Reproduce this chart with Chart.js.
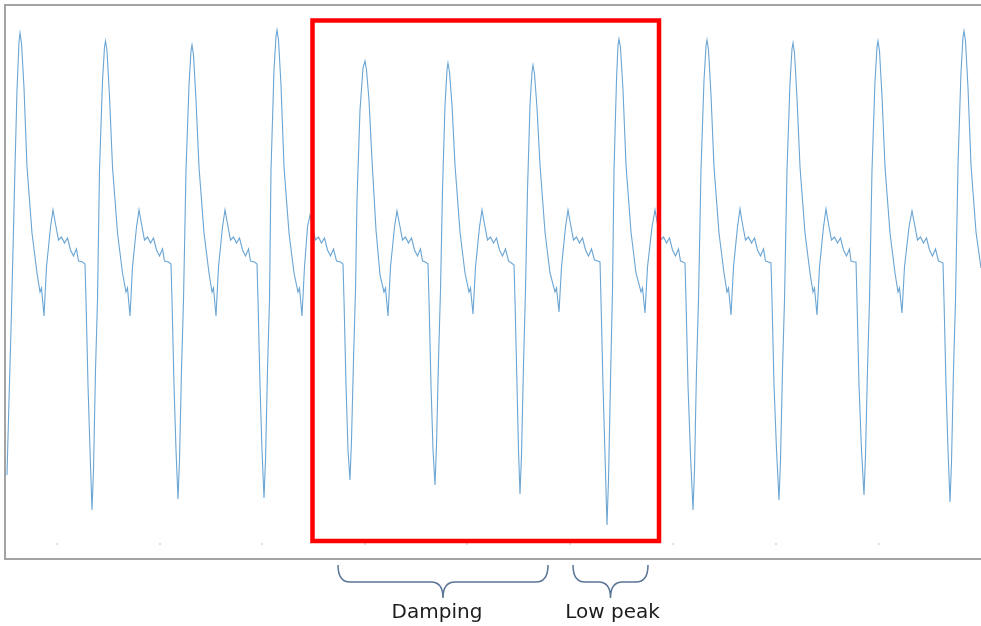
<!DOCTYPE html>
<html>
<head>
<meta charset="utf-8">
<script src="https://cdn.jsdelivr.net/npm/chart.js@4"></script>
<style>
  body { margin: 0; background: #fff; }
</style>
</head>
<body>
<canvas id="waveChart" width="981" height="626"></canvas>
<script>
// signal trace: [sample, level] (level axis points down)
const signal = [
  [7,475],[9,400],[11,330],[13,250],[15,167],[17,90],[19,42],[20,33],[21.5,43],[24,88],[27,167],[32,233],[37,273],[40,292],[41.5,288],[44,316],[46.5,267],[50.5,227],[53,210],[55.5,224],[58.5,240],[61.5,237],[64.5,243],[67.5,238],[70.5,250],[73.5,256],[76.5,249],[78.5,261],[82.5,262],[85,264],[86,300],[88,385],[90,450],
  [92,510],[93.5,470],[95.5,370],[97.5,300],[99.5,170],[102.5,81],[104.5,47],[105.5,41],[107,51],[109.5,96],[112.5,167],[117.5,233],[122.5,273],[126,292],[127.5,288],[130,316],[132.5,267],[136.5,227],[139,210],[141.5,224],[144.5,240],[147.5,237],[150.5,243],[153.5,238],[156.5,250],[159.5,256],[162.5,249],[164.5,261],[168.5,262],[171,264],[172,300],[174,385],[176,450],
  [178,499],[179.5,460],[181.5,370],[183.5,300],[186,170],[189,85],[191,51],[192,45],[193.5,55],[196,100],[199,167],[204,233],[209,273],[212,292],[213.5,288],[216,316],[218.5,267],[222.5,227],[225,210],[227.5,224],[230.5,240],[233.5,237],[236.5,243],[239.5,238],[242.5,250],[245.5,256],[248.5,249],[250.5,261],[254.5,262],[257,264],[258,300],[260,385],[262,450],
  [264,498],[265.5,460],[267.5,370],[269.5,300],[271,170],[274,70],[276,36],[277,30],[278.5,40],[281,85],[284,167],[289,233],[294,273],[298,292],[299.5,288],[302,316],[304.5,267],[307.5,227],[310,215],[312.5,226],[315.5,240],[318.5,237],[321.5,243],[324.5,238],[327.5,250],[330.5,256],[333.5,249],[336.5,261],[340.5,262],[343,264],[344,300],[346,385],[348,450],
  [350,480],[351.5,440],[353.5,360],[355.5,290],[357,200],[360,110],[363,68],[365,61],[366.5,70],[369,100],[372,160],[376,230],[380,275],[384,292],[385.5,288],[388,316],[390.5,267],[394.5,227],[397,211],[399.5,224],[402.5,240],[405.5,237],[408.5,243],[411.5,238],[414.5,250],[417.5,256],[420.5,249],[422.5,261],[425.5,262],[428,264],[429,300],[431,385],[433,450],
  [435,485],[436.5,445],[438.5,360],[440.5,290],[442.5,190],[445,105],[447,70],[448,63],[449.5,72],[452,105],[455,165],[460,232],[465,273],[469,292],[470.5,288],[473,314],[475.5,267],[479.5,227],[482,210],[484.5,224],[487.5,240],[490.5,237],[493.5,243],[496.5,238],[499.5,250],[502.5,256],[505.5,249],[508.5,261],[511.5,263],[514,265],[515,300],[517,385],[518.5,450],
  [520,494],[521.5,455],[523.5,365],[525.5,290],[527.5,190],[530,105],[532,72],[533,65],[534.5,74],[537,108],[540,165],[545,232],[550,273],[555,292],[556.5,288],[559,312],[561.5,267],[565.5,227],[568,210],[570.5,224],[573.5,240],[576.5,237],[579.5,243],[582.5,238],[585.5,250],[588.5,256],[591.5,249],[594.5,260],[597.5,261],[600,262],[601,300],[603,385],[605,455],
  [607,525],[608.5,480],[610.5,380],[612.5,290],[614,170],[616.5,80],[618,45],[619,39],[620.5,48],[623,90],[626,165],[631,232],[636,273],[641,292],[642.5,288],[645,313],[647.5,267],[652,227],[655,210],[657.5,224],[660.5,240],[663.5,237],[666.5,243],[669.5,238],[672.5,250],[675.5,256],[678.5,249],[680.5,261],[683,262],[685,263],[686,300],[688,385],[690.5,455],
  [693,510],[694.5,470],[696.5,370],[698.5,300],[701,170],[704,80],[706,46],[707,40],[708.5,50],[711,95],[714,167],[719,233],[724,273],[727,292],[728.5,288],[731,315],[733.5,267],[737.5,227],[740,209],[742.5,224],[745.5,240],[748.5,237],[751.5,243],[754.5,238],[757.5,250],[760.5,256],[763.5,249],[765.5,261],[768.5,262],[771,263],[772,300],[774,385],[776.5,450],
  [779,500],[780.5,460],[782.5,370],[784.5,300],[787,170],[790,83],[792,49],[793,43],[794.5,53],[797,98],[800,167],[805,233],[810,273],[813,292],[814.5,288],[817,315],[819.5,267],[823.5,227],[826,209],[828.5,224],[831.5,240],[834.5,237],[837.5,243],[840.5,238],[843.5,250],[846.5,256],[849.5,249],[851,261],[854,262],[856,262],[857,300],[859,385],[861.5,450],
  [864,495],[865.5,455],[867.5,370],[869.5,300],[872,170],[875,81],[877,47],[878,41],[879.5,51],[882,96],[885,167],[890,233],[895,273],[898,292],[899.5,288],[902,313],[904.5,267],[909,227],[912,211],[914.5,224],[917.5,240],[920.5,237],[923.5,243],[926.5,238],[929.5,250],[932.5,256],[935.5,249],[938.5,261],[941,262],[943,263],[944,300],[946,385],[948,450],
  [950,502],[951.5,462],[953.5,370],[955.5,300],[958,165],[961,72],[963,37],[964,31],[965.5,41],[968,88],[971,165],[976,232],[981,268]
];

// faint tick marks near the bottom of the plot
const tickMarksX = [57, 160, 262, 365, 467, 570, 673, 776, 879];
const tickMarkLevel = 544;

// highlighted window (red box), in data units
const boxX = [312.5, 659];
const boxY = [20.5, 541];

// braces under the plot
const braceStart = [338, 573];
const braceEnd = [548, 648];
const braceLabels = ['Damping', 'Low peak'];

const frameAndNotes = {
  id: 'frameAndNotes',
  afterDatasetsDraw(chart) {
    const { ctx, chartArea: a, scales: { x, y } } = chart;
    ctx.save();

    // plot frame: left, top, bottom (right side runs off the picture)
    ctx.strokeStyle = '#a3a3a3';
    ctx.lineWidth = 2;
    ctx.beginPath();
    ctx.moveTo(a.right + 2, a.top);
    ctx.lineTo(a.left, a.top);
    ctx.lineTo(a.left, a.bottom);
    ctx.lineTo(a.right + 2, a.bottom);
    ctx.stroke();

    // red box
    ctx.strokeStyle = '#ff0000';
    ctx.lineWidth = 4.5;
    const bx0 = x.getPixelForValue(boxX[0]);
    const bx1 = x.getPixelForValue(boxX[1]);
    const by0 = y.getPixelForValue(boxY[0]);
    const by1 = y.getPixelForValue(boxY[1]);
    ctx.strokeRect(bx0, by0, bx1 - bx0, by1 - by0);

    // braces + labels
    const top = a.bottom + 6, mid = a.bottom + 23, tip = a.bottom + 39;
    ctx.strokeStyle = '#5a7595';
    ctx.lineWidth = 1.5;
    ctx.fillStyle = '#1c1c1c';
    ctx.font = '20px "DejaVu Sans"';
    ctx.textAlign = 'center';
    ctx.textBaseline = 'middle';
    braceLabels.forEach((label, i) => {
      const x0 = x.getPixelForValue(braceStart[i]);
      const x1 = x.getPixelForValue(braceEnd[i]);
      const xc = (x0 + x1) / 2;
      ctx.beginPath();
      ctx.moveTo(x0, top);
      ctx.quadraticCurveTo(x0, mid, x0 + 12, mid);
      ctx.lineTo(xc - 12, mid);
      ctx.quadraticCurveTo(xc, mid, xc, tip);
      ctx.quadraticCurveTo(xc, mid, xc + 12, mid);
      ctx.lineTo(x1 - 12, mid);
      ctx.quadraticCurveTo(x1, mid, x1, top);
      ctx.stroke();
      ctx.fillText(label, xc - (i === 0 ? 6 : -2), a.bottom + 54);
    });

    ctx.restore();
  }
};

new Chart(document.getElementById('waveChart'), {
  type: 'line',
  data: {
    datasets: [
      {
        label: 'signal',
        data: signal.map(p => ({ x: p[0], y: p[1] })),
        borderColor: '#6aa5d4',
        borderWidth: 1.1,
        pointRadius: 0,
        pointHoverRadius: 0,
        tension: 0
      },
      {
        label: 'ticks',
        type: 'scatter',
        data: tickMarksX.map(v => ({ x: v, y: tickMarkLevel })),
        pointRadius: 0.8,
        pointHoverRadius: 0,
        backgroundColor: '#b8b8b8',
        borderWidth: 0
      }
    ]
  },
  options: {
    responsive: false,
    animation: false,
    layout: { autoPadding: false, padding: { left: 5, top: 5, right: 0, bottom: 67 } },
    plugins: { legend: { display: false }, tooltip: { enabled: false } },
    scales: {
      x: { type: 'linear', min: 5, max: 981, display: false },
      y: { min: 5, max: 559, reverse: true, display: false }
    }
  },
  plugins: [frameAndNotes]
});
</script>
</body>
</html>
